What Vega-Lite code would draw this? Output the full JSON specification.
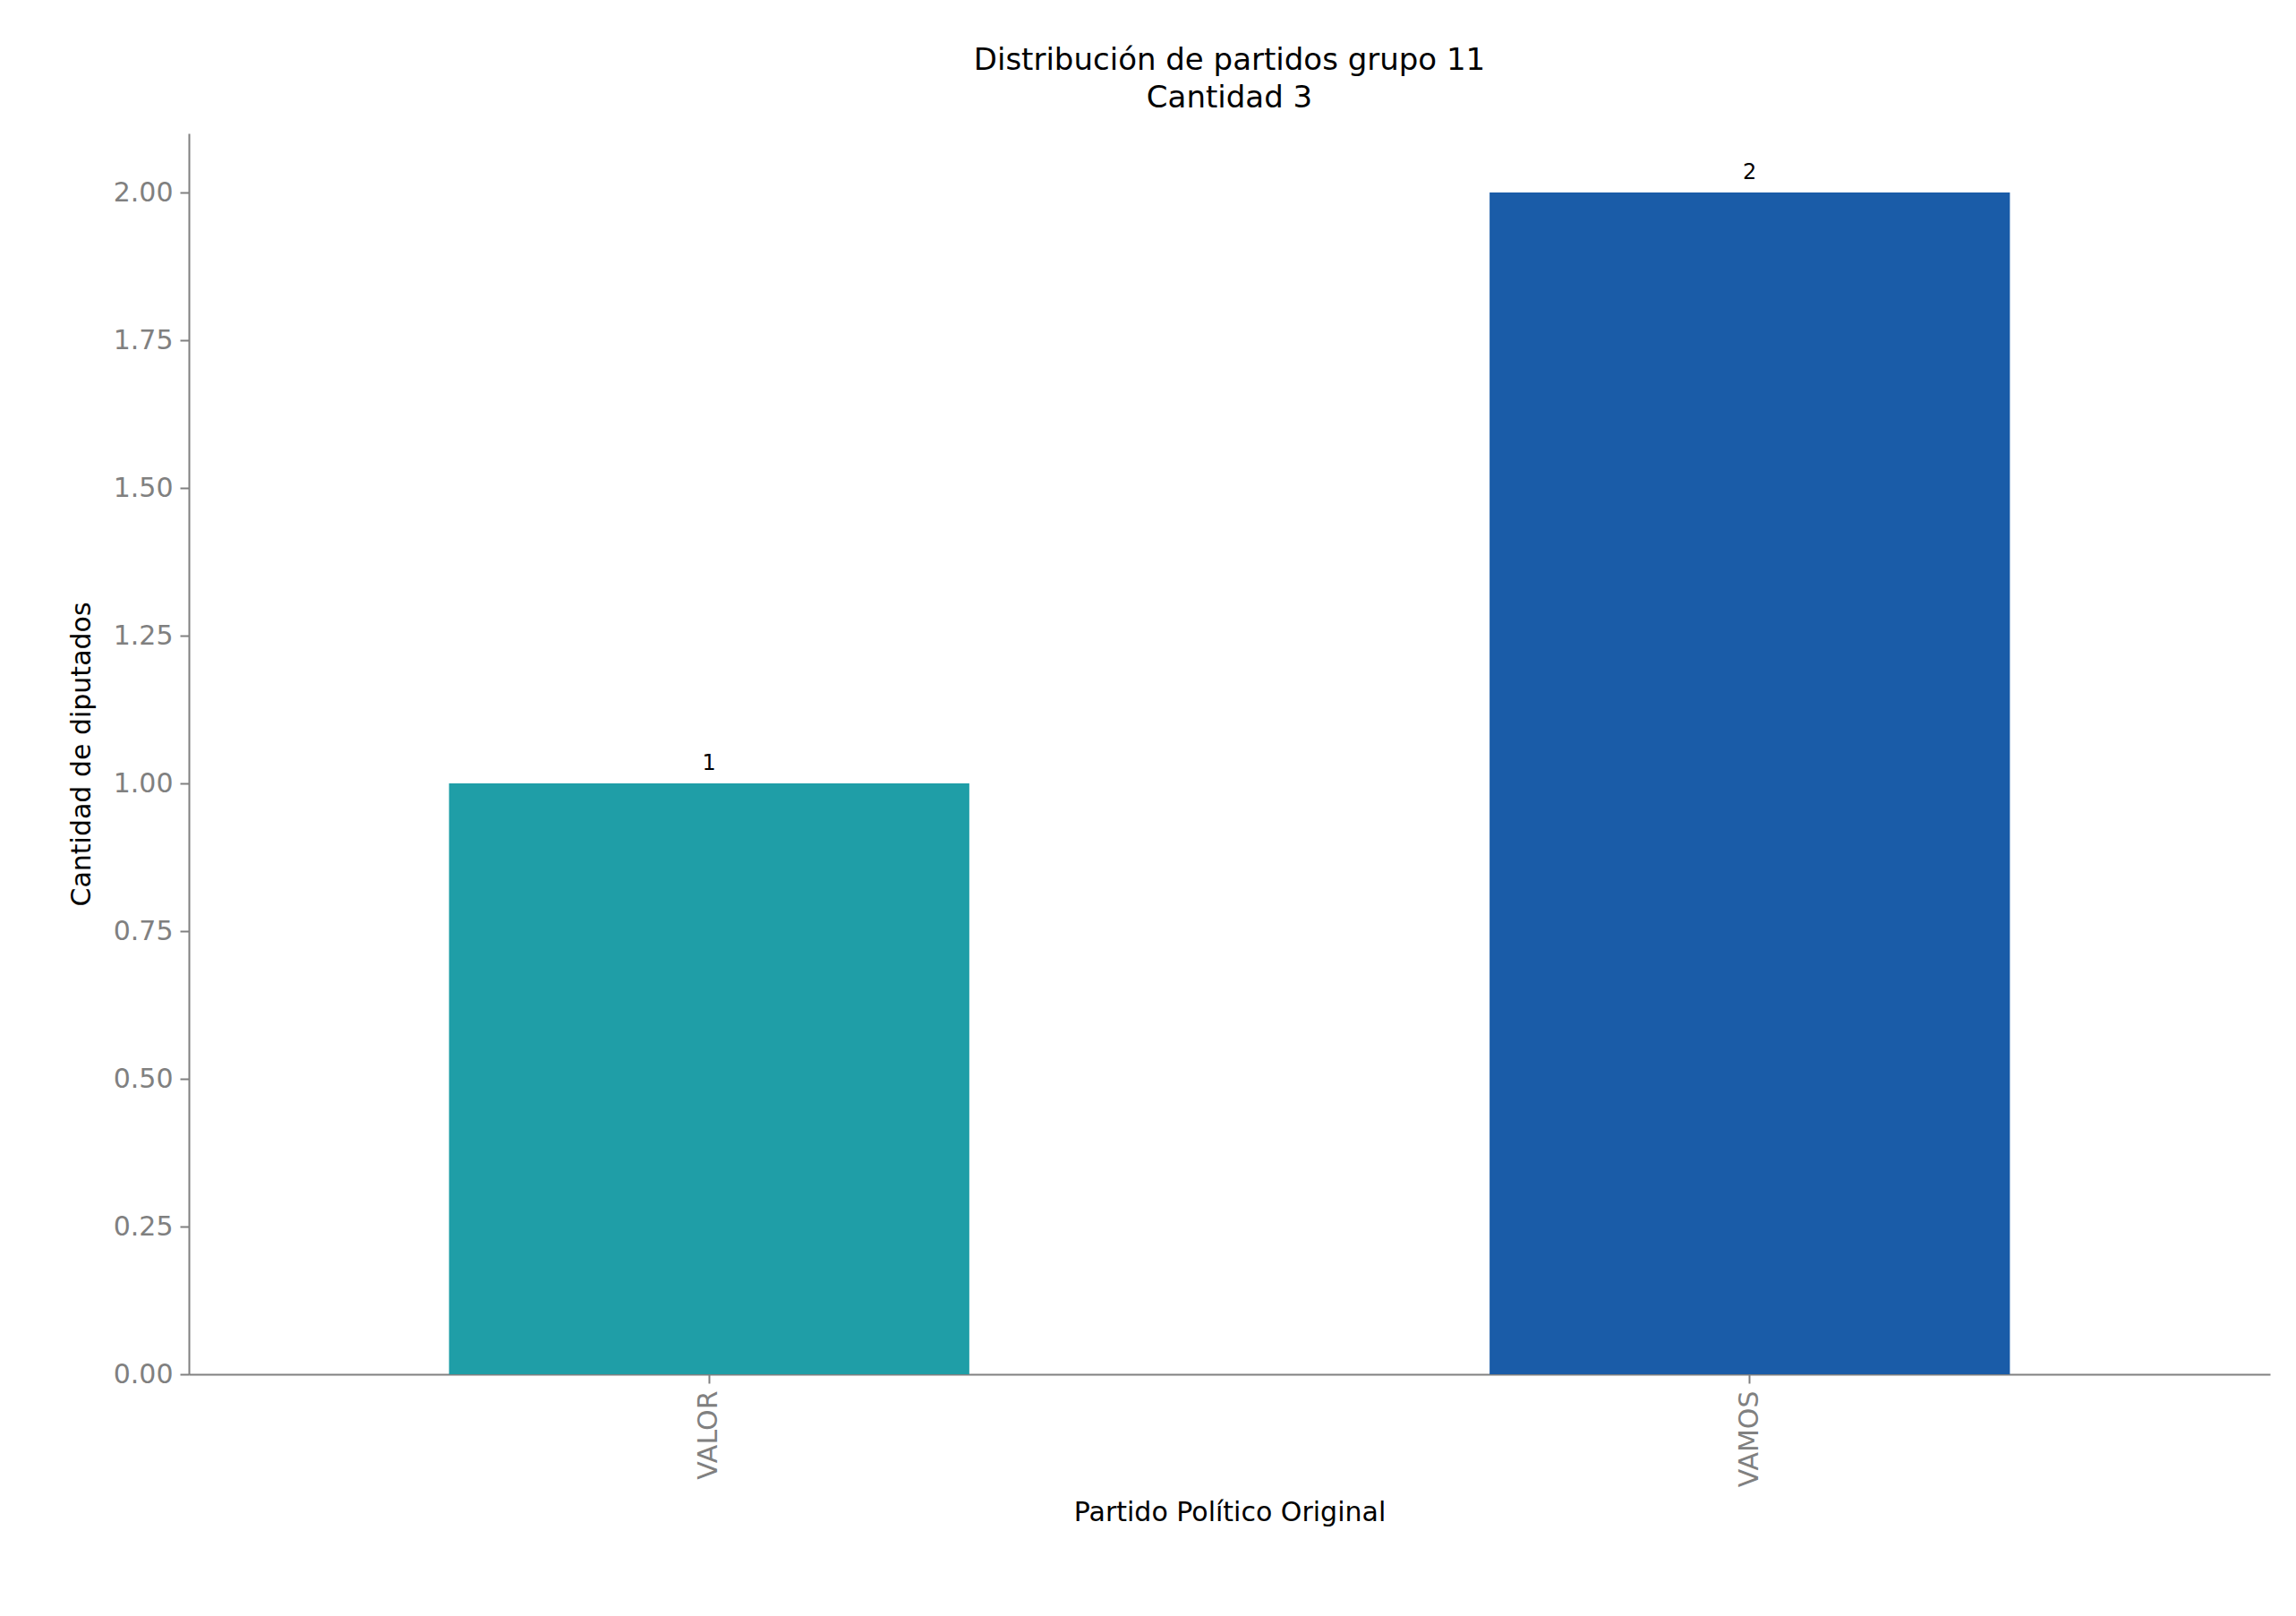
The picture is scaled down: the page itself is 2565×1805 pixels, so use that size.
{
"$schema":"https://vega.github.io/schema/vega-lite/v6.json",
"autosize":{"type":"none"},
"padding":{"left":211,"top":149,"right":29,"bottom":270},
"width":2325,"height":1386,
"background":"white",
"config":{"font":"DejaVu Sans","view":{"stroke":null}},
"title":{"text":["Distribución de partidos grupo 11","Cantidad 3"],"fontSize":34,"fontWeight":"normal","color":"black","offset":22,"lineHeight":42,"anchor":"middle"},
"data":{"values":[{"partido":"VALOR","cantidad":1,"color":"#1f9ea7"},{"partido":"VAMOS","cantidad":2,"color":"#1a5ca8"}]},
"encoding":{
"x":{"field":"partido","type":"nominal","scale":{"paddingInner":0.5,"paddingOuter":0.25},
"axis":{"title":"Partido Político Original","titleFontSize":30,"titleFontWeight":"normal","titleColor":"black","titlePadding":14,"labelAngle":-90,"labelFontSize":30,"labelColor":"#808080","domainColor":"#808080","tickColor":"#808080","tickSize":10,"domainWidth":2,"tickWidth":2,"labelPadding":8}},
"y":{"field":"cantidad","type":"quantitative","scale":{"domain":[0,2.1],"nice":false},
"axis":{"title":"Cantidad de diputados","titleFontSize":30,"titleFontWeight":"normal","titleColor":"black","titlePadding":20,"values":[0,0.25,0.5,0.75,1,1.25,1.5,1.75,2],"format":".2f","labelFontSize":30,"labelColor":"#808080","domainColor":"#808080","tickColor":"#808080","tickSize":10,"domainWidth":2,"tickWidth":2,"grid":false,"labelPadding":8}}
},
"layer":[
{"mark":{"type":"bar"},"encoding":{"color":{"field":"color","type":"nominal","scale":null}}},
{"mark":{"type":"text","dy":-22,"fontSize":24,"color":"black"},"encoding":{"text":{"field":"cantidad","type":"quantitative"}}}
]
}
